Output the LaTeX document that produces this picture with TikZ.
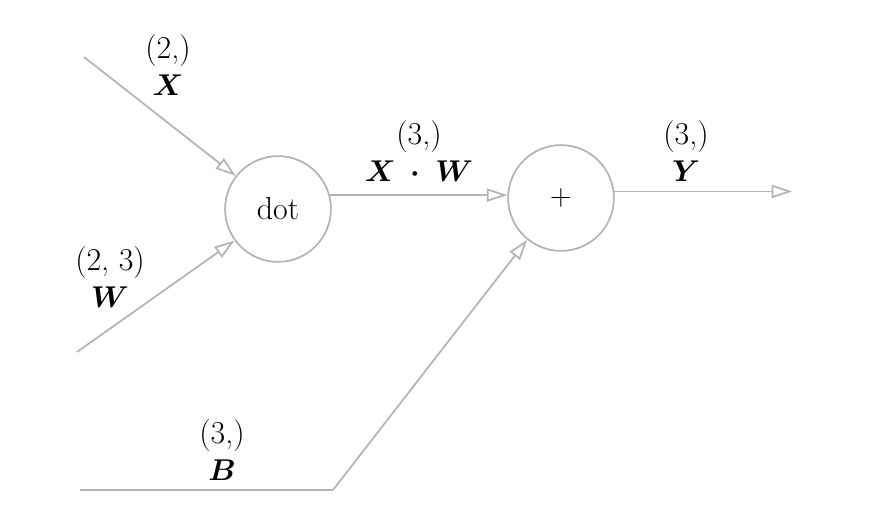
\documentclass[tikz,border=0pt]{standalone}
\usepackage{amsmath}
\usepackage{amssymb}
\usepackage{bm}
\usepackage{tikz}
\usetikzlibrary{arrows.meta}

\definecolor{edgegray}{RGB}{180,180,180}

\begin{document}
\begin{tikzpicture}[x=0.69pt,y=-0.69pt,
        font=\fontsize{22}{26}\selectfont,
        op/.style={circle,draw=edgegray,line width=1.2pt,minimum size=73pt,inner sep=0pt},
        flow/.style={draw=edgegray,line width=1.2pt,-{Triangle[open,length=14pt,width=9pt]}},
        wire/.style={draw=edgegray,line width=1.2pt},
        lbl/.style={align=center,inner sep=0pt}]
    \useasboundingbox (0,0) rectangle (886,527);
    % operations
    \node[op] (dot) at (278,209) {dot};
    \node[op] (plus) at (561,198) {$+$};
    % free ends
    \coordinate (xin) at (84,57);
    \coordinate (win) at (77,352);
    \coordinate (bin) at (80,490);
    \coordinate (bbend) at (333,490);
    \coordinate (yout) at (792,191);
    % connectors
    \draw[flow] (xin) -- (dot.142);
    \draw[flow] (win) -- (dot.216);
    \draw[flow] (dot.15) -- (dot.15 -| plus.west);
    \draw[flow] (plus.7) -- (plus.7 -| yout);
    \draw[wire] (bin) -- (bbend);
    \draw[flow] (bbend) -- (plus.231);
    % labels
    \node[lbl] (xlbl) at (168,65) {(2,)\\[0pt] $\bm{X}$};
    \node[lbl] (wlbl) at (110,277) {(2, 3)\\[0pt] $\bm{W}$};
    \node[lbl] (xwlbl) at (419,151) {(3,)\\[0pt] $\bm{X}\;\bm{\cdot}\;\bm{W}$};
    \node[lbl] (ylbl) at (686,151) {(3,)\\[0pt] $\bm{Y}$};
    \node[lbl] (blbl) at (222,450) {(3,)\\[0pt] $\bm{B}$};
\end{tikzpicture}
\end{document}
